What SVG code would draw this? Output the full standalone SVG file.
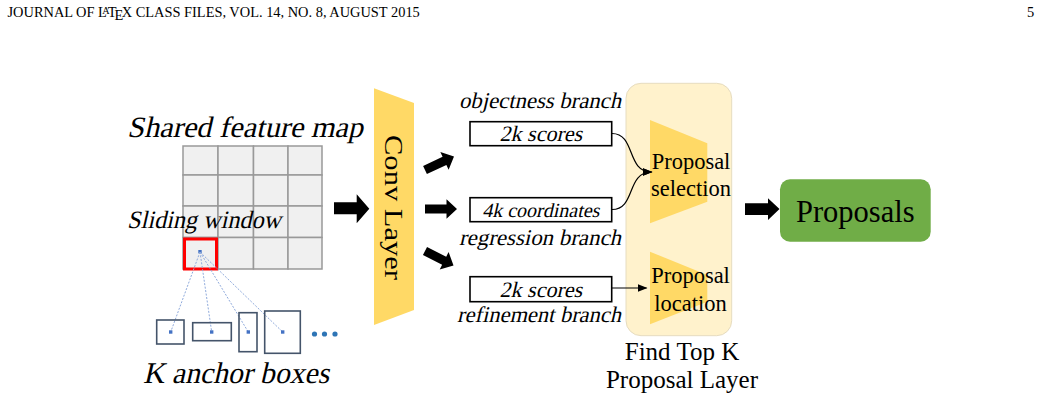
<svg xmlns="http://www.w3.org/2000/svg" width="1041" height="402" viewBox="0 0 1041 402">
<style>
.serif{font-family:"Liberation Serif","Times New Roman",serif;fill:#000}
.cell{fill:#f0f0f0;stroke:#999;stroke-width:1.5}
.anchor{fill:none;stroke:#44546a;stroke-width:1.6}
.dot{fill:#4472c4}
.dash{stroke:#8faadc;stroke-width:1;stroke-dasharray:2 1.5;fill:none}
.box{fill:#fff;stroke:#000;stroke-width:1.6}
.big{fill:#000}
.conn{fill:none;stroke:#000;stroke-width:1.2}
.trap{fill:#ffd966}
</style>
<defs>
<marker id="ah" markerWidth="10" markerHeight="8" refX="9" refY="4" orient="auto" markerUnits="userSpaceOnUse">
<path d="M0,0 L10,4 L0,8 Z" fill="#000"/>
</marker>
<path id="sarrow" d="M0,-4.5 H21.5 V-9.8 L32,0 L21.5,9.8 V4.5 H0 Z"/>
</defs>
<rect width="1041" height="402" fill="#fff"/>

<g id="header">
<text class="serif" x="7.5" y="16.5" font-size="14.4">JOURNAL OF L<tspan dx="-4.6" dy="-3" font-size="10.2">A</tspan><tspan dx="-1.8" dy="3">T</tspan><tspan dx="-2.2" dy="3.2">E</tspan><tspan dx="-1.6" dy="-3.2">X</tspan> CLASS FILES, VOL. 14, NO. 8, AUGUST 2015</text>
<text class="serif" x="1027" y="16.5" font-size="14.4">5</text>
</g>

<g id="feature-map">
<text class="serif" transform="translate(127,136.5) skewX(-13)" font-size="29.5" textLength="236" lengthAdjust="spacingAndGlyphs">Shared feature map</text>
<rect class="cell" x="183" y="146" width="35" height="29"/>
<rect class="cell" x="218" y="146" width="35.5" height="29"/>
<rect class="cell" x="253.5" y="146" width="34.5" height="29"/>
<rect class="cell" x="288" y="146" width="34" height="29"/>
<rect class="cell" x="183" y="175" width="35" height="31"/>
<rect class="cell" x="218" y="175" width="35.5" height="31"/>
<rect class="cell" x="253.5" y="175" width="34.5" height="31"/>
<rect class="cell" x="288" y="175" width="34" height="31"/>
<rect class="cell" x="183" y="206" width="35" height="31.5"/>
<rect class="cell" x="218" y="206" width="35.5" height="31.5"/>
<rect class="cell" x="253.5" y="206" width="34.5" height="31.5"/>
<rect class="cell" x="288" y="206" width="34" height="31.5"/>
<rect class="cell" x="183" y="237.5" width="35" height="31.5"/>
<rect class="cell" x="218" y="237.5" width="35.5" height="31.5"/>
<rect class="cell" x="253.5" y="237.5" width="34.5" height="31.5"/>
<rect class="cell" x="288" y="237.5" width="34" height="31.5"/>
<text class="serif" transform="translate(127,227.5) skewX(-13)" font-size="25" textLength="154" lengthAdjust="spacingAndGlyphs">Sliding window</text>
</g>

<g id="sliding-window">
<rect x="184.5" y="239" width="32" height="30" fill="none" stroke="#ff0000" stroke-width="3"/>
<rect class="dot" x="198.3" y="250" width="3.4" height="3.4"/>
</g>

<g id="anchors">
<line class="dash" x1="200" y1="252" x2="170.7" y2="332"/>
<line class="dash" x1="200" y1="252" x2="211.7" y2="332"/>
<line class="dash" x1="200" y1="252" x2="248.3" y2="332"/>
<line class="dash" x1="200" y1="252" x2="282.7" y2="332"/>
<rect class="anchor" x="156.7" y="320" width="27.3" height="24"/>
<rect class="anchor" x="192.7" y="322.7" width="38.6" height="18"/>
<rect class="anchor" x="239" y="312.7" width="18" height="39"/>
<rect class="anchor" x="264.7" y="311" width="35.6" height="42.3"/>
<rect class="dot" x="169" y="330.3" width="3.4" height="3.4"/>
<rect class="dot" x="210" y="330.3" width="3.4" height="3.4"/>
<rect class="dot" x="246.6" y="330.3" width="3.4" height="3.4"/>
<rect class="dot" x="281" y="330.3" width="3.4" height="3.4"/>
<circle cx="314.5" cy="334" r="2.6" fill="#2e75b6"/>
<circle cx="324.5" cy="334" r="2.6" fill="#2e75b6"/>
<circle cx="335" cy="334" r="2.6" fill="#2e75b6"/>
<text class="serif" transform="translate(143,383) skewX(-13)" font-size="30" textLength="186" lengthAdjust="spacingAndGlyphs">K anchor boxes</text>
</g>

<g id="conv-layer">
<path class="trap" d="M374,88.3 L414,103 L414,310 L374,325 Z"/>
<text class="serif" transform="translate(394,207.5) rotate(90)" x="0" y="9.5" font-size="26" text-anchor="middle" textLength="145" lengthAdjust="spacingAndGlyphs">Conv Layer</text>
</g>

<g id="objectness-branch">
<text class="serif" transform="translate(621,108.3) skewX(-13)" font-size="22.5" text-anchor="end" textLength="162" lengthAdjust="spacingAndGlyphs">objectness branch</text>
<rect class="box" x="470" y="121.7" width="141.7" height="24"/>
<text class="serif" transform="translate(540.8,141.3) skewX(-13)" font-size="22" text-anchor="middle">2k scores</text>
</g>

<g id="regression-branch">
<rect class="box" x="470" y="197.7" width="141.7" height="24"/>
<text class="serif" transform="translate(540.8,216.5) skewX(-13)" font-size="20" text-anchor="middle">4k coordinates</text>
<text class="serif" transform="translate(621,245) skewX(-13)" font-size="22.5" text-anchor="end" textLength="162" lengthAdjust="spacingAndGlyphs">regression branch</text>
</g>

<g id="refinement-branch">
<rect class="box" x="470" y="276.7" width="141.7" height="25"/>
<text class="serif" transform="translate(540.8,296.5) skewX(-13)" font-size="22" text-anchor="middle">2k scores</text>
<text class="serif" transform="translate(621,321.7) skewX(-13)" font-size="22.5" text-anchor="end" textLength="164" lengthAdjust="spacingAndGlyphs">refinement branch</text>
</g>

<g id="find-top-k">
<rect x="626" y="83.3" width="105.7" height="252.4" rx="15" ry="15" fill="#fff2cc" stroke="#e6dcc0" stroke-width="1"/>
<path class="trap" d="M650,120 L707.3,143.3 L707.3,201.7 L650,223.3 Z"/>
<path class="trap" d="M650,251.7 L707.3,275 L707.3,301.7 L650,324.3 Z"/>
<text class="serif" x="691" y="168.5" font-size="22.5" text-anchor="middle">Proposal</text>
<text class="serif" x="691" y="195.5" font-size="22.5" text-anchor="middle">selection</text>
<text class="serif" x="690.5" y="282.5" font-size="22.5" text-anchor="middle">Proposal</text>
<text class="serif" x="690.5" y="310.5" font-size="22.5" text-anchor="middle">location</text>
<text class="serif" x="682" y="360" font-size="25" text-anchor="middle">Find Top K</text>
<text class="serif" x="682" y="388.3" font-size="25" text-anchor="middle">Proposal Layer</text>
</g>

<g id="proposals">
<rect x="780" y="179.3" width="150.7" height="62.4" rx="10" ry="10" fill="#70ad47"/>
<text class="serif" x="855.3" y="221.5" font-size="30.5" text-anchor="middle">Proposals</text>
</g>

<g id="connectors">
<path class="big" d="M334,202.3 H356.7 V194.3 L369.3,208.8 L356.7,223.3 V214.3 H334 Z"/>
<use href="#sarrow" class="big" transform="translate(425,170) rotate(-25)"/>
<use href="#sarrow" class="big" transform="translate(425,209)"/>
<use href="#sarrow" class="big" transform="translate(425,251) rotate(27)"/>
<path class="conn" d="M612,133.5 C636,133.5 626,172 651.5,172" marker-end="url(#ah)"/>
<path class="conn" d="M612,209.5 C636,209.5 626,172 651.5,172" marker-end="url(#ah)"/>
<path class="conn" d="M612,288 L646.5,288" marker-end="url(#ah)"/>
<path class="big" d="M745,203.3 H768 V198.3 L779.5,209 L768,220 V215 H745 Z"/>
</g>
</svg>
